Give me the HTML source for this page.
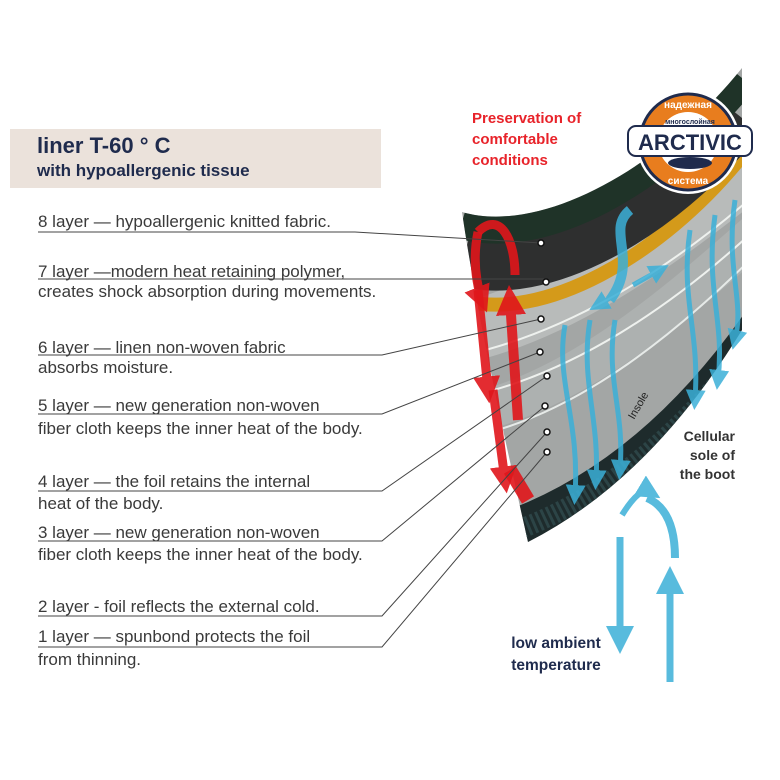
<!DOCTYPE html>
<html><head><meta charset="utf-8"><style>
body{margin:0;width:780px;height:780px;background:#fff;position:relative;overflow:hidden;font-family:"Liberation Sans","DejaVu Sans",sans-serif}
.t{position:absolute;left:38px;font-size:17px;color:#3a3a3a;white-space:nowrap;line-height:1}
</style></head><body>
<div style="position:absolute;left:10px;top:129px;width:371px;height:59px;background:#ebe2db"></div>
<div style="position:absolute;left:37px;top:133px;font-size:22px;font-weight:bold;color:#1f2b4d">liner T-60 ° C</div>
<div style="position:absolute;left:37px;top:161px;font-size:17px;font-weight:bold;color:#1f2b4d">with hypoallergenic tissue</div>

<div class="t" style="top:213px">8 layer — hypoallergenic knitted fabric.</div>
<div class="t" style="top:263px">7 layer —modern heat retaining polymer,</div>
<div class="t" style="top:283px">creates shock absorption during movements.</div>
<div class="t" style="top:339px">6 layer — linen non-woven fabric</div>
<div class="t" style="top:359px">absorbs moisture.</div>
<div class="t" style="top:397px">5 layer — new generation non-woven</div>
<div class="t" style="top:420px">fiber cloth keeps the inner heat of the body.</div>
<div class="t" style="top:473px">4 layer — the foil retains the internal</div>
<div class="t" style="top:495px">heat of the body.</div>
<div class="t" style="top:524px">3 layer — new generation non-woven</div>
<div class="t" style="top:546px">fiber cloth keeps the inner heat of the body.</div>
<div class="t" style="top:598px">2 layer - foil reflects the external cold.</div>
<div class="t" style="top:628px">1 layer — spunbond protects the foil</div>
<div class="t" style="top:651px">from thinning.</div>

<svg width="780" height="780" style="position:absolute;left:0;top:0">
<defs>
<clipPath id="c"><path d="M462,212 C540,235 660,170 742,68 L742,330 Q650,480 528,542 C505,440 478,320 462,212Z"/></clipPath>
<marker id="ab" markerWidth="4" markerHeight="4" refX="2" refY="2" orient="auto"><path d="M0,0L4,2L0,4Z" fill="#3bb0d8"/></marker>
<marker id="ar" markerWidth="3" markerHeight="3" refX="1.5" refY="1.5" orient="auto"><path d="M0,0L3,1.5L0,3Z" fill="#e0161b"/></marker>
</defs>
<g clip-path="url(#c)">
<rect x="440" y="50" width="320" height="520" fill="#a3a6a5"/>
<path d="M420,340 C540,330 660,240 760,160" stroke="#b8bbba" stroke-width="60" fill="none"/>
<path d="M430,420 C560,410 680,300 760,230" stroke="#adb1b0" stroke-width="40" fill="none"/>
<path d="M440,360 C560,340 670,270 760,190" stroke="#eef1ee" stroke-width="2" fill="none"/>
<path d="M450,400 C570,380 680,300 760,225" stroke="#eef1ee" stroke-width="2" fill="none"/>
<path d="M455,440 C580,420 690,320 760,250" stroke="#e6eae8" stroke-width="2" fill="none"/>
<path d="M462,300 C540,323 660,258 742,156" stroke="#d49a1a" stroke-width="14" fill="none"/>
<path d="M462,262 C540,285 660,220 742,118" stroke="#2e2f2f" stroke-width="48" fill="none"/>
<path d="M462,222 C540,245 660,180 742,78" stroke="#1f3328" stroke-width="34" fill="none"/>
<path d="M470,545 Q650,500 780,300" stroke="#1e2b2c" stroke-width="44" fill="none"/>
<path d="M470,545 Q650,500 780,300" stroke="#2c4446" stroke-width="20" fill="none" stroke-dasharray="3 3"/>
</g>
<path d="M478,232 C470,270 482,300 482,300" stroke="#e0161b" stroke-width="9" fill="none" opacity=".9" marker-end="url(#ar)"/>
<path d="M478,232 C500,210 515,240 515,275" stroke="#e0161b" stroke-width="9" fill="none" opacity=".9"/>
<path d="M478,290 L488,390" stroke="#e0161b" stroke-width="9" opacity=".9" marker-end="url(#ar)"/>
<path d="M493,390 L505,480" stroke="#e0161b" stroke-width="9" opacity=".9" marker-end="url(#ar)"/>
<path d="M518,420 L510,300" stroke="#e0161b" stroke-width="10" opacity=".9" marker-end="url(#ar)"/>
<path d="M510,470 L528,500" stroke="#e0161b" stroke-width="14" opacity=".9"/>
<g stroke="#3bb0d8" stroke-width="5" fill="none" opacity=".85" marker-end="url(#ab)">
<path d="M565,325 C555,380 580,420 575,495"/>
<path d="M590,320 C580,380 600,420 596,480"/>
<path d="M615,320 C605,380 625,410 620,470"/>
<path d="M690,230 C680,300 700,330 695,400"/>
<path d="M715,215 C705,290 725,320 718,380"/>
<path d="M735,200 C725,270 745,300 735,340"/>
<path d="M630,210 C605,230 640,260 610,300" stroke-width="10" marker-end="none"/>
<path d="M610,298 L598,305" />
<path d="M633,285 L660,270"/>
<path d="M622,515 Q640,486 650,492" stroke-width="6"/>
<path d="M647,498 Q675,510 675,558" stroke-width="8" marker-end="none"/>
<path d="M620,537 L620,640" stroke-width="7"/>
<path d="M670,682 L670,580" stroke-width="7"/>
</g>
<g stroke="#444" stroke-width="1" fill="none">
<path d="M38,232 H355 L541,243"/>
<path d="M38,279 H545"/>
<path d="M38,355 H382 L541,319"/>
<path d="M38,414 H382 L540,352"/>
<path d="M38,491 H382 L547,376"/>
<path d="M38,541 H382 L545,406"/>
<path d="M38,616 H382 L547,432"/>
<path d="M38,647 H382 L547,452"/>
</g>
<g fill="#fff" stroke="#111" stroke-width="1.5">
<circle cx="541" cy="243" r="3"/><circle cx="546" cy="282" r="3"/><circle cx="541" cy="319" r="3"/><circle cx="540" cy="352" r="3"/><circle cx="547" cy="376" r="3"/><circle cx="545" cy="406" r="3"/><circle cx="547" cy="432" r="3"/><circle cx="547" cy="452" r="3"/>
</g>
<text x="634" y="420" transform="rotate(-60 634 420)" font-size="11" fill="#222">Insole</text>
<circle cx="688" cy="142" r="52" fill="#fff"/>
<circle cx="688" cy="142" r="48" fill="#e87d1e" stroke="#1f2b4d" stroke-width="3"/>
<circle cx="688" cy="142" r="30" fill="#fff"/>
<rect x="628" y="126" width="124" height="30" rx="8" fill="#fff" stroke="#1f2b4d" stroke-width="2"/>
<text x="690" y="150" text-anchor="middle" font-size="22" font-weight="bold" fill="#1f2b4d">ARCTIVIC</text>
<text x="690" y="124" text-anchor="middle" font-size="7" font-weight="bold" fill="#1f2b4d">многослойная</text>
<text x="688" y="108" text-anchor="middle" font-size="10" font-weight="bold" fill="#fff">надежная</text>
<text x="688" y="184" text-anchor="middle" font-size="10" font-weight="bold" fill="#fff">система</text>
<ellipse cx="690" cy="163" rx="22" ry="6" fill="#1f2b4d"/>
</svg>
<div style="position:absolute;left:472px;top:108px;font-size:15px;font-weight:bold;color:#e8232a;line-height:21px">Preservation of<br>comfortable<br>conditions</div>
<div style="position:absolute;right:45px;top:427px;font-size:14px;font-weight:bold;color:#333;line-height:19px;text-align:right">Cellular<br>sole of<br>the boot</div>
<div style="position:absolute;left:500px;top:633px;width:112px;font-size:15.5px;font-weight:bold;color:#1f2b4d;line-height:22px;text-align:center">low ambient<br>temperature</div>
</body></html>
